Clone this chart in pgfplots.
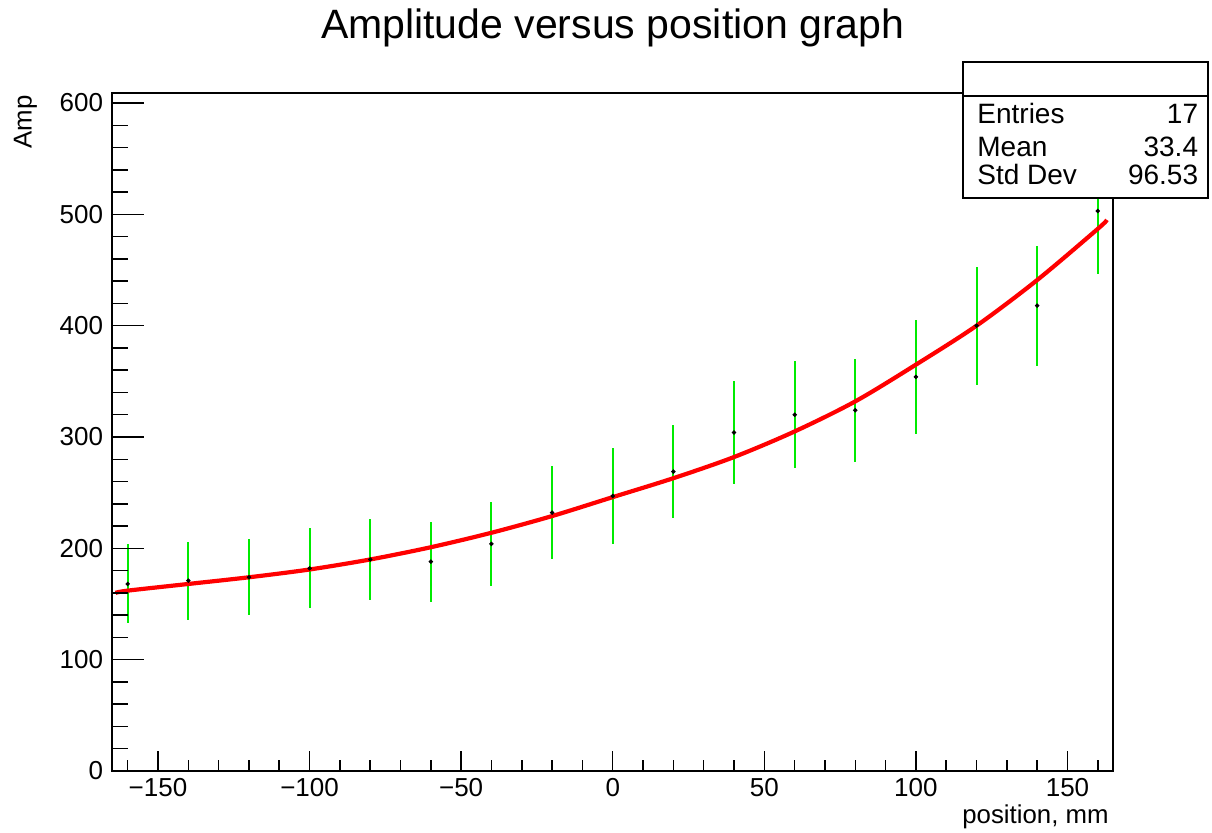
\documentclass[border=0pt]{standalone}
\usepackage{fontspec}
\setmainfont{Liberation Sans}
\usepackage{pgfplots}
\usepackage{pgfplotstable}
\pgfplotsset{compat=1.18}
\definecolor{rootgreen}{RGB}{0,235,0}
\definecolor{rootred}{RGB}{255,0,0}

\pgfplotstableread{
x y err
-160 168 35.5
-140 171 35
-120 174 34
-100 182 36
-80 190 36
-60 188 36
-40 204 38
-20 232 42
0 247 43
20 269 42
40 304 46
60 320 48
80 324 46
100 354 51
120 400 53
140 418 54
160 503 57
}\pointdata

\pgfplotstableread{
x y
-164 160
-160 162
-140 168
-120 174
-100 181
-80 190
-60 201
-40 214
-20 229
0 246
20 263
40 282
60 305
80 332
100 365
120 400
140 441
160 487
163 495
}\fitdata

\begin{document}
\begin{tikzpicture}
\path[use as bounding box] (-56.25pt,-30.5pt) rectangle (549.75pt,385.5pt);
% main axis: data, x ticks, labels
\begin{axis}[
  at={(0pt,0pt)}, anchor=south west,
  scale only axis, width=500.25pt, height=339pt,
  xmin=-165, xmax=165, ymin=0, ymax=609,
  axis line style={line width=1pt},
  tick align=inside, xtick pos=bottom,
  xtick={-150,-100,-50,0,50,100,150},
  xticklabels={−150,−100,−50,0,50,100,150},
  minor xtick={-160,-150,...,160},
  ytick=\empty,
  major tick length=10pt, minor tick length=5.5pt,
  every tick/.style={line width=0.75pt, black},
  xticklabel style={font=\fontsize{13}{15}\selectfont},
  title={Amplitude versus position graph},
  title style={at={(axis description cs:0.5,1.0634)}, anchor=base, inner sep=0pt,
    font=\fontsize{20.5}{24}\selectfont},
  xlabel={position, mm},
  xlabel style={at={(axis description cs:0.996,-0.078)}, anchor=base east, inner sep=0pt,
    font=\fontsize{12.9}{14}\selectfont},
]
\addplot[only marks, mark=*, mark size=0.9pt, black,
  error bars/.cd, y dir=both, y explicit, error mark=none,
  error bar style={rootgreen, line width=1pt}]
  table[x=x, y=y, y error=err] {\pointdata};
\addplot[rootred, line width=2.1pt, smooth, no marks] table[x=x, y=y] {\fitdata};
\end{axis}
% second axis: y ticks with longer tick length
\begin{axis}[
  at={(0pt,0pt)}, anchor=south west,
  scale only axis, width=500.25pt, height=339pt,
  xmin=-165, xmax=165, ymin=0, ymax=609,
  axis line style={line width=1pt},
  tick align=inside, ytick pos=left,
  xtick=\empty,
  ytick={0,100,200,300,400,500,600},
  yticklabels={0,100,200,300,400,500,600},
  minor ytick={20,40,...,600},
  major tick length=15.5pt, minor tick length=8pt,
  every tick/.style={line width=0.75pt, black},
  yticklabel style={font=\fontsize{13}{15}\selectfont, xshift=-1.2pt},
  ylabel={Amp},
  ylabel style={at={(axis description cs:-0.087,0.997)}, anchor=east, inner sep=0pt,
    font=\fontsize{12.9}{14}\selectfont},
]
\end{axis}
% statistics box
\draw[line width=1pt, fill=white] (425.1pt,286.35pt) rectangle (547.75pt,354.35pt);
\draw[line width=1pt] (425.1pt,337.65pt) -- (547.75pt,337.65pt);
\begin{scope}[every node/.style={inner sep=0pt, font=\fontsize{14}{16}\selectfont}]
\node[anchor=base west] at (432.25pt,323.85pt) {Entries};
\node[anchor=base west] at (432.25pt,307pt) {Mean};
\node[anchor=base west] at (432.25pt,293pt) {Std Dev};
\node[anchor=base east] at (543pt,323.85pt) {17};
\node[anchor=base east] at (543pt,307pt) {33.4};
\node[anchor=base east] at (543pt,293pt) {96.53};
\end{scope}
\end{tikzpicture}
\end{document}
